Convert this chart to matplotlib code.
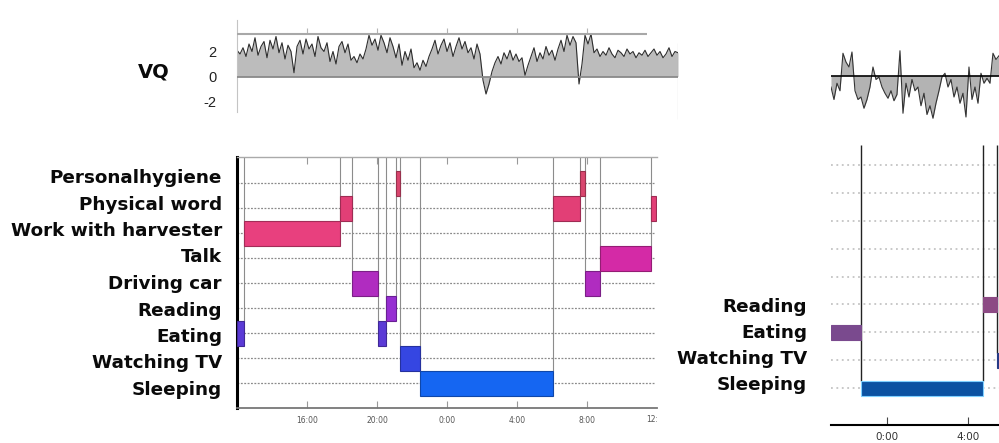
import matplotlib
matplotlib.use("Agg")
import matplotlib.pyplot as plt
import numpy as np
from matplotlib.transforms import Bbox, TransformedBbox

# ---------------- data ----------------
activities = ["Personalhygiene", "Physical word", "Work with harvester", "Talk",
              "Driving car", "Reading", "Eating", "Watching TV", "Sleeping"]

# left panel: hours after 12:00
left_act = ["Eating", "Work with harvester", "Physical word", "Driving car", "Eating",
            "Reading", "Personalhygiene", "Watching TV", "Sleeping", "Physical word",
            "Personalhygiene", "Driving car", "Talk", "Physical word"]
left_start = [0.0, 0.4, 5.9, 6.55, 8.06, 8.5, 9.1, 9.3, 10.44, 18.07, 19.6, 19.87, 20.74, 23.64]
left_end = [0.4, 5.9, 6.55, 8.06, 8.5, 9.1, 9.3, 10.44, 18.07, 19.6, 19.87, 20.74, 23.64, 23.94]
left_ticks = [4, 8, 12, 16, 20]
left_ticklabels = ["16:00", "20:00", "0:00", "4:00", "8:00"]

# right panel: hours relative to 0:00
right_act = ["Eating", "Sleeping", "Reading", "Watching TV"]
right_start = [-2.76, -1.28, 4.73, 5.42]
right_end = [-1.28, 4.73, 5.42, 7.0]
right_ticks = [0, 4]
right_ticklabels = ["0:00", "4:00"]
right_labels = ["Reading", "Eating", "Watching TV", "Sleeping"]

# VQ series (left: sample every 24/140 h from 12:00)
vq_left_step = 24 / 140
vq_left = [2.1, 1.8, 2.3, 1.6, 2.6, 2.0, 3.1, 1.7, 2.4, 2.8, 1.5, 2.9, 2.2, 3.2, 1.9, 2.7,
           1.4, 2.5, 2.0, 0.3, 2.4, 2.9, 1.8, 3.0, 2.2, 2.6, 1.6, 3.2, 2.3, 2.0, 2.7,
           1.2, 2.0, 1.0, 2.4, 2.8, 1.9, 2.6, 1.3, 1.6, 1.1, 1.8, 1.4, 2.2, 3.3, 2.5, 3.0,
           2.1, 3.3, 2.7, 1.9, 3.1, 2.4,
           1.5, 2.6, 0.9, 2.0, 1.3, 2.2, 0.7, 1.1, 0.5, 1.3, 0.8, 1.6, 2.2, 2.9, 1.8, 2.5,
           3.0, 2.0, 2.7, 1.6, 2.4, 3.1, 2.2, 2.8, 1.9, 2.3, 1.4, 2.6, 1.8,
           -0.3, -1.4, -0.6, 0.4,
           1.1, 1.6, 1.0, 1.9, 1.4, 2.1, 1.3, 1.8, 1.2, 1.5, 0.1, 0.9,
           1.6, 2.3, 1.2, 1.9, 1.4, 2.4, 1.7, 2.1, 1.3, 2.2,
           2.9, 2.0, 3.3, 2.5, 3.2, 2.7,
           -0.6, 1.0,
           3.3, 2.6, 3.4,
           1.9, 2.2, 1.6, 2.0, 1.7, 2.3, 1.8, 1.5, 2.1, 1.9, 1.6, 2.2, 1.8, 2.0, 1.5,
           1.9, 1.7, 2.1, 1.6, 1.9, 2.2, 1.7, 2.0, 1.5, 1.8, 2.3, 1.6, 2.0, 1.9]

# right VQ: starts 21:14, sample every 3/20.3 h
vq_right_t0 = -2.76
vq_right_step = 3 / 20.3
vq_right = [-0.9, -1.9, -0.6, -1.2, 1.8, 1.1, 0.7, 1.9, -1.2, -1.9, -1.7, -2.6, -1.9,
            -0.9, 0.7, -0.3, -0.1, -0.9, -1.4, -1.8, -1.2, -2.0, -1.5, 2.0, -3.0, -0.6,
            -1.7, -0.3, -1.2, -0.9, -2.4, -1.4, -3.1, -2.4, -3.4, -2.2, -1.2, -0.1, 0.2,
            -0.9, -0.3, -1.7, -0.9, -2.2, -1.4, -3.3, 0.7, -1.9, -0.9, -2.2, 0.2, -0.6,
            -0.2, -0.6, 1.8, 1.3, 1.6]

left_colors = {"Personalhygiene": "#d9466e", "Physical word": "#e23f76",
               "Work with harvester": "#e8407e", "Talk": "#d42aa6",
               "Driving car": "#b02cc0", "Reading": "#962ed2", "Eating": "#5b3ad6",
               "Watching TV": "#3546e2", "Sleeping": "#1566f2"}
right_colors = {"Eating": "#7a4a8e", "Sleeping": "#0c52a2",
                "Reading": "#8c4a84", "Watching TV": "#263a86"}

# ---------------- figure ----------------
W, H = 999, 443
fig = plt.figure(figsize=(W / 100, H / 100), dpi=100)


def add_ax(x0, y0, x1, y1):
    return fig.add_axes([x0 / W, 1 - y1 / H, (x1 - x0) / W, (y1 - y0) / H])


def darker(c, f=0.7):
    r, g, b = matplotlib.colors.to_rgb(c)
    return (r * f, g * f, b * f)


row = {a: i for i, a in enumerate(activities)}
label_font = dict(family="DejaVu Sans", weight="bold", fontsize=13.2, color="#0a0a0a")

# ---- left VQ ----
ax1 = add_ax(237, 20, 678, 122)
t1 = np.arange(len(vq_left)) * vq_left_step
ax1.fill_between(t1, 0, vq_left, color="#bcbcbc", lw=0, zorder=1)
ax1.plot(t1, vq_left, color="#2e2e2e", lw=0.8, zorder=2)
ax1.hlines(0, 0, t1[-1], color="#8a8a8a", lw=1.3, zorder=3)
ax1.hlines(3.4, 0, 23.43, color="#a8a8a8", lw=1.5, zorder=3)
ax1.vlines(left_ticks, 3.4, 3.9, color="#b4b4b4", lw=0.8)
ax1.vlines(t1[-1], -3.4, 2.7, color="#a0a0a0", lw=0.8)
ax1.set_xlim(0, 441 / 17.5)
ax1.set_ylim(-3.64, 4.52)
for s in ["top", "right", "bottom"]:
    ax1.spines[s].set_visible(False)
ax1.spines["left"].set_color("#c4c4c4")
ax1.spines["left"].set_bounds(-2.8, 4.5)
ax1.set_xticks([])
ax1.set_yticks([-2, 0, 2])
ax1.set_yticklabels(["-2", "0", "2"], fontsize=10.5, color="#222", family="Liberation Sans")
ax1.tick_params(axis="y", length=0, pad=15)
ax1.patch.set_alpha(0)
fig.text(154 / W, 1 - 72 / H, "VQ", ha="center", va="center",
         family="DejaVu Sans", weight="bold", fontsize=14, color="#0a0a0a")

# ---- left activity chart ----
ax2 = add_ax(237, 157, 657, 408)
ax2.set_xlim(0, 24)
ax2.set_ylim(9.0, -1.04)
for k in range(len(activities)):
    ax2.hlines(k, 0, 23.9, color="#8a8a8a", lw=0.9, linestyle=(0, (1.5, 1.2)), zorder=1)
for i in range(1, len(left_act)):
    lower = max(row[left_act[i - 1]], row[left_act[i]])
    ax2.vlines(left_start[i], -1.04, lower - 0.5, color="#8c8c8c", lw=0.8, zorder=1)
for a, s, e in zip(left_act, left_start, left_end):
    ax2.barh(row[a], e - s, left=s, height=1.0, color=left_colors[a],
             edgecolor=darker(left_colors[a]), lw=0.8, zorder=3)
ax2.spines["right"].set_visible(False)
ax2.spines["left"].set_color("black")
ax2.spines["left"].set_linewidth(2.2)
ax2.spines["bottom"].set_color("#777")
ax2.spines["bottom"].set_linewidth(1.3)
ax2.spines["top"].set_color("#aaa")
ax2.spines["top"].set_linewidth(1.0)
ax2.set_yticks([])
ax2.set_xticks(left_ticks)
ax2.set_xticklabels(left_ticklabels, fontsize=5.5, color="#555")
ax2.tick_params(axis="x", direction="in", length=5, color="#999", pad=5.5, top=True)
ax2.patch.set_alpha(0)
txt = fig.text(657 / W, 1 - 420 / H, "12:00", ha="center", va="center",
               fontsize=5.5, color="#555")
txt.set_clip_box(TransformedBbox(Bbox([[0, 0], [657 / W, 1]]), fig.transFigure))
txt.set_clip_on(True)

for i, a in enumerate(activities):
    fig.text(222 / W, 1 - (178 + 26.5 * i) / H, a, ha="right", va="center", **label_font)

# ---- right VQ ----
xl_r = ((831 - 887) / 20.3, (1040 - 887) / 20.3)
ax4 = add_ax(831, 40, 1040, 125)
t4 = vq_right_t0 + np.arange(len(vq_right)) * vq_right_step
ax4.fill_between(t4, 0, vq_right, color="#b3b3b3", lw=0)
ax4.plot(t4, vq_right, color="#333", lw=0.8)
ax4.hlines(0, xl_r[0], xl_r[1], color="black", lw=1.2)
ax4.set_xlim(*xl_r)
ax4.set_ylim(-3.94, 2.86)
ax4.axis("off")

# ---- right activity chart ----
ax3 = add_ax(831, 140, 1040, 425)
ax3.set_xlim(*xl_r)
ax3.set_ylim(9.32, -0.896)
for k in range(len(activities)):
    ax3.hlines(k, xl_r[0], xl_r[1], color="#c4c4c4", lw=1.3, linestyle=(0, (1, 2)), zorder=1)
bh = 0.54
for i in range(1, len(right_act)):
    lower = max(row[right_act[i - 1]], row[right_act[i]])
    ax3.vlines(right_start[i], -0.72, lower - bh / 2, color="#222", lw=1.0, zorder=2)
for a, s, e in zip(right_act, right_start, right_end):
    ec = "#7fd0ff" if a == "Sleeping" else right_colors[a]
    ax3.barh(row[a], e - s, left=s, height=bh, color=right_colors[a],
             edgecolor=ec, lw=0.8, zorder=3)
for s in ["top", "right", "left"]:
    ax3.spines[s].set_visible(False)
ax3.spines["bottom"].set_color("black")
ax3.spines["bottom"].set_linewidth(1.5)
ax3.set_yticks([])
ax3.set_xticks(right_ticks)
ax3.set_xticklabels(right_ticklabels, fontsize=7.5, color="#333")
ax3.tick_params(axis="x", direction="in", length=6, color="#444", pad=5)
ax3.patch.set_alpha(0)

for i, a in enumerate(right_labels):
    fig.text(807 / W, 1 - (307 + 26 * i) / H, a, ha="right", va="center", **label_font)

fig.savefig("out.png", dpi=100)
